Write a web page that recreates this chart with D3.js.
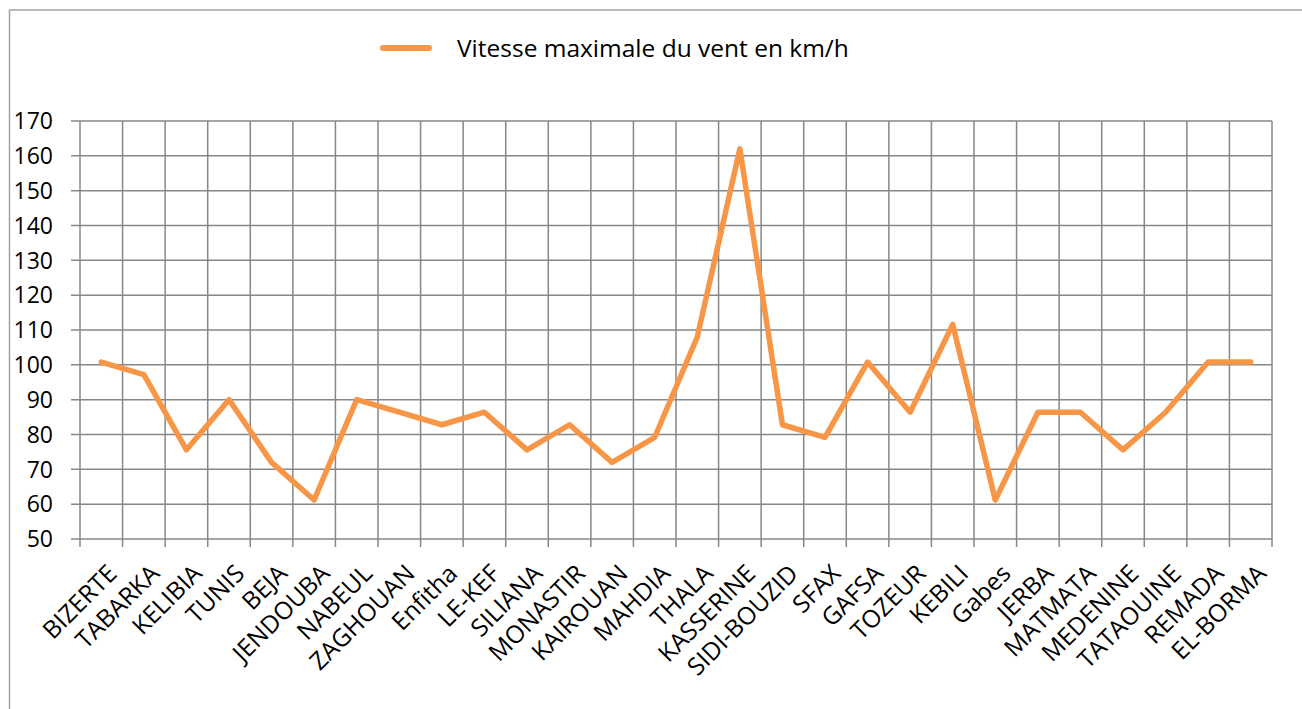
<!DOCTYPE html>
<html>
<head>
<meta charset="utf-8">
<script src="https://cdn.jsdelivr.net/npm/d3@7/dist/d3.min.js"></script>
<style>
  html, body { margin: 0; padding: 0; background: #fff; }
  svg { display: block; }
  text { font-family: "Open Sans", "Noto Sans", sans-serif; fill: #000; }
</style>
</head>
<body>
<svg id="chart" width="1302" height="709"></svg>
<script>
const categories = ["BIZERTE","TABARKA","KELIBIA","TUNIS","BEJA","JENDOUBA","NABEUL","ZAGHOUAN","Enfitha","LE-KEF","SILIANA","MONASTIR","KAIROUAN","MAHDIA","THALA","KASSERINE","SIDI-BOUZID","SFAX","GAFSA","TOZEUR","KEBILI","Gabes","JERBA","MATMATA","MEDENINE","TATAOUINE","REMADA","EL-BORMA"];
const windSpeed = [100.8,97.2,75.6,90,72,61.2,90,86.4,82.8,86.4,75.6,82.8,72,79.2,108,162,82.8,79.2,100.8,86.4,111.6,61.2,86.4,86.4,75.6,86.4,100.8,100.8];
const yTicks = [50,60,70,80,90,100,110,120,130,140,150,160,170];
const seriesName = "Vitesse maximale du vent en km/h";

const svg = d3.select("#chart");
const W = 1302, H = 709;
const plot = {left: 80, right: 1272, top: 121, bottom: 539};
const gridColor = "#878787";
const lineColor = "#F79646";

// outer chart border
svg.append("rect").attr("x", 9.5).attr("y", 10).attr("width", W).attr("height", H)
  .attr("fill", "none").attr("stroke", "#a3a3a3").attr("stroke-width", 1.5);

const x = d3.scaleBand().domain(categories).range([plot.left, plot.right]).padding(0);
const y = d3.scaleLinear().domain([50, 170]).range([plot.bottom, plot.top]);

// horizontal gridlines
svg.append("g").selectAll("line").data(yTicks).join("line")
  .attr("x1", plot.left - 9).attr("x2", plot.right)
  .attr("y1", d => y(d)).attr("y2", d => y(d))
  .attr("stroke", gridColor).attr("stroke-width", 1.5);

// vertical gridlines at category boundaries
const bounds = categories.map(c => x(c)).concat([plot.right]);
svg.append("g").selectAll("line").data(bounds).join("line")
  .attr("x1", d => d).attr("x2", d => d)
  .attr("y1", plot.top).attr("y2", plot.bottom + 8)
  .attr("stroke", gridColor).attr("stroke-width", 1.5);

// y tick labels
svg.append("g").selectAll("text").data(yTicks).join("text")
  .attr("x", 53).attr("y", d => y(d)).attr("dy", "0.36em")
  .attr("text-anchor", "end").style("font-size", "23px")
  .text(d => d);

// x labels rotated
svg.append("g").selectAll("text").data(categories).join("text")
  .attr("transform", d => `translate(${x(d) + x.bandwidth()/2 + 11},${plot.bottom + 30}) rotate(-45)`)
  .attr("text-anchor", "end").attr("dy", "0.35em")
  .style("font-size", "24.5px")
  .text(d => d);

// line
const line = d3.line().x((d, i) => x(categories[i]) + x.bandwidth()/2).y(d => y(d));
svg.append("path").datum(windSpeed)
  .attr("d", line).attr("fill", "none")
  .attr("stroke", lineColor).attr("stroke-width", 5.5)
  .attr("stroke-linejoin", "round").attr("stroke-linecap", "round");

// legend
svg.append("line").attr("x1", 383).attr("x2", 429).attr("y1", 48).attr("y2", 48)
  .attr("stroke", lineColor).attr("stroke-width", 6).attr("stroke-linecap", "round");
svg.append("text").attr("x", 457).attr("y", 48).attr("dy", "0.36em")
  .style("font-size", "24.5px").text(seriesName);
</script>
</body>
</html>
